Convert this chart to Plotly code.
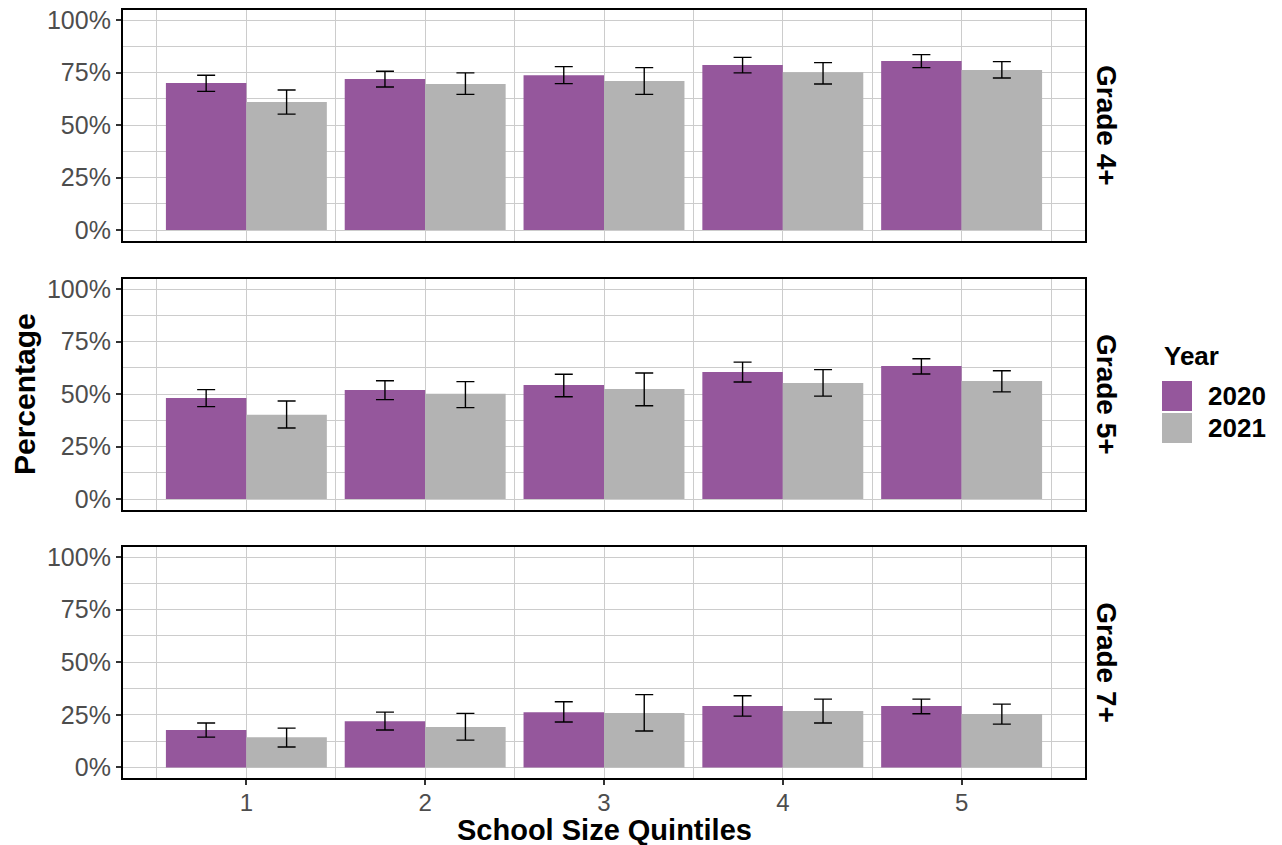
import plotly.graph_objects as go

# ---------------- data ----------------
quintiles = [1, 2, 3, 4, 5]
years = ["2020", "2021"]
grades = ["Grade 4+", "Grade 5+", "Grade 7+"]

g4_2020 = [70.0, 71.9, 73.7, 78.6, 80.5]
g4_2020_lo = [66.0, 68.1, 69.7, 74.8, 77.3]
g4_2020_hi = [73.7, 75.6, 77.8, 82.2, 83.5]
g4_2021 = [61.0, 69.5, 71.0, 75.1, 76.2]
g4_2021_lo = [55.2, 64.6, 64.6, 69.5, 72.4]
g4_2021_hi = [66.7, 74.8, 77.3, 79.7, 80.2]

g5_2020 = [48.1, 51.9, 54.3, 60.5, 63.3]
g5_2020_lo = [44.0, 47.3, 48.7, 55.7, 59.5]
g5_2020_hi = [52.1, 56.3, 59.4, 65.2, 66.8]
g5_2021 = [40.1, 50.1, 52.4, 55.2, 56.2]
g5_2021_lo = [33.8, 43.5, 44.4, 49.0, 51.0]
g5_2021_hi = [46.7, 55.9, 60.0, 61.6, 61.1]

g7_2020 = [17.8, 22.0, 26.3, 29.2, 29.2]
g7_2020_lo = [14.4, 17.8, 21.6, 24.4, 25.5]
g7_2020_hi = [21.1, 26.3, 31.2, 34.1, 32.5]
g7_2021 = [14.4, 19.2, 25.9, 26.8, 25.4]
g7_2021_lo = [9.7, 13.0, 17.3, 21.1, 20.6]
g7_2021_hi = [18.7, 25.7, 34.6, 32.5, 30.1]

y_ticks = [0, 25, 50, 75, 100]
y_tick_labels = ["0%", "25%", "50%", "75%", "100%"]

panels = [
    [(g4_2020, g4_2020_lo, g4_2020_hi), (g4_2021, g4_2021_lo, g4_2021_hi)],
    [(g5_2020, g5_2020_lo, g5_2020_hi), (g5_2021, g5_2021_lo, g5_2021_hi)],
    [(g7_2020, g7_2020_lo, g7_2020_hi), (g7_2021, g7_2021_lo, g7_2021_hi)],
]

# ---------------- style ----------------
colors = {"2020": "#95579c", "2021": "#b3b3b3"}
FONT = "Liberation Sans, Arial, sans-serif"
GRID = "#cccccc"
W, H = 1282, 845
ML, MR, MT, MB = 123, 197, 9, 67
PW, PH = W - ML - MR, H - MT - MB

def px_x(px):
    return (px - ML) / PW

def px_y(py):
    return (H - MB - py) / PH

# panel pixel extents (top, bottom)
panel_px = [(9.5, 240.5), (278.5, 509.5), (546.5, 778.0)]

fig = go.Figure()

for i, series in enumerate(panels):
    ax = "" if i == 0 else str(i + 1)
    for yr, (vals, lo, hi) in zip(years, series):
        fig.add_trace(go.Bar(
            x=quintiles, y=vals, name=yr,
            marker=dict(color=colors[yr], line=dict(width=0)),
            error_y=dict(type="data", symmetric=False,
                         array=[h - v for h, v in zip(hi, vals)],
                         arrayminus=[v - l for v, l in zip(vals, lo)],
                         color="black", thickness=1.4, width=9),
            xaxis="x" + ax, yaxis="y" + ax,
            showlegend=False, hoverinfo="skip",
        ))

layout = dict(
    width=W, height=H,
    margin=dict(l=ML, r=MR, t=MT, b=MB, autoexpand=False),
    paper_bgcolor="white", plot_bgcolor="white",
    barmode="group", bargap=0.1, bargroupgap=0,
    font=dict(family=FONT, size=25, color="#4d4d4d"),
    showlegend=False,
)

for i, (top, bot) in enumerate(panel_px):
    ax = "" if i == 0 else str(i + 1)
    last = i == 2
    layout["xaxis" + ax] = dict(
        domain=[0, 1], anchor="y" + ax, range=[0.31, 5.69],
        tickmode="array", tickvals=quintiles,
        ticktext=[str(q) for q in quintiles] if last else [""] * 5,
        showticklabels=last,
        ticks="outside" if last else "", ticklen=5, tickwidth=1.5, tickcolor="#333333",
        ticklabelstandoff=-3 if last else 0,
        tickfont=dict(size=24, color="#4d4d4d", family=FONT),
        showgrid=True, gridcolor=GRID, gridwidth=1.4,
        minor=dict(tick0=0.5, dtick=1, showgrid=True, gridcolor=GRID, gridwidth=1.4),
        showline=True, mirror=True, linecolor="black", linewidth=2.2,
        zeroline=False,
        matches="x" if i > 0 else None,
    )
    layout["yaxis" + ax] = dict(
        domain=[px_y(bot), px_y(top)], anchor="x" + ax, range=[-5, 105],
        tickmode="array", tickvals=y_ticks, ticktext=y_tick_labels,
        ticks="outside", ticklen=5, tickwidth=1.5, tickcolor="#333333",
        tickfont=dict(size=25, color="#4d4d4d", family=FONT),
        showgrid=True, gridcolor=GRID, gridwidth=1.4,
        minor=dict(dtick=12.5, showgrid=True, gridcolor=GRID, gridwidth=1.4),
        showline=True, mirror=True, linecolor="black", linewidth=2.2,
        zeroline=False,
    )

annotations = []
shapes = []
# strip labels
for g, (top, bot) in zip(grades, panel_px):
    annotations.append(dict(
        text="<b>%s</b>" % g, xref="paper", yref="paper",
        x=px_x(1107), y=px_y((top + bot) / 2), xanchor="center", yanchor="middle",
        textangle=90, showarrow=False,
        font=dict(size=28, color="black", family=FONT),
    ))
# axis titles
annotations.append(dict(
    text="<b>Percentage</b>", xref="paper", yref="paper",
    x=px_x(24), y=px_y(394), xanchor="center", yanchor="middle",
    textangle=-90, showarrow=False, font=dict(size=30, color="black", family=FONT),
))
annotations.append(dict(
    text="<b>School Size Quintiles</b>", xref="paper", yref="paper",
    x=px_x(604), y=px_y(830), xanchor="center", yanchor="middle",
    showarrow=False, font=dict(size=29, color="black", family=FONT),
))
# legend
annotations.append(dict(
    text="<b>Year</b>", xref="paper", yref="paper",
    x=px_x(1162), y=px_y(356), xanchor="left", yanchor="middle",
    showarrow=False, font=dict(size=26, color="black", family=FONT),
))
for k, yr in enumerate(years):
    y0 = 381 + k * 32
    shapes.append(dict(
        type="rect", xref="paper", yref="paper",
        x0=px_x(1162), x1=px_x(1192), y0=px_y(y0 + 30), y1=px_y(y0),
        fillcolor=colors[yr], line=dict(width=0),
    ))
    annotations.append(dict(
        text="<b>%s</b>" % yr, xref="paper", yref="paper",
        x=px_x(1206), y=px_y(y0 + 15), xanchor="left", yanchor="middle",
        showarrow=False, font=dict(size=26, color="black", family=FONT),
    ))

layout["annotations"] = annotations
layout["shapes"] = shapes
fig.update_layout(**layout)

fig.write_html(
    "out.html",
    config={"displayModeBar": False},
    post_script="document.body.style.margin='0px';document.body.style.overflow='hidden';",
)
